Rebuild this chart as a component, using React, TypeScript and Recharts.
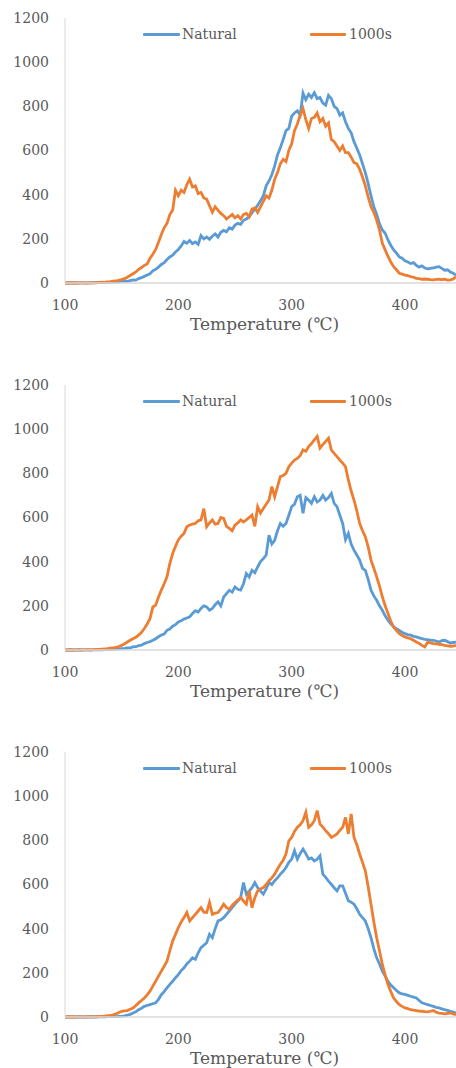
import React from 'react';
import { LineChart, Line, XAxis, YAxis } from 'recharts';

// temperatures 100 .. 445 step 2.5
const TEMPS: number[] = Array.from({ length: 139 }, (_, i) => 100 + i * 2.5);
const X_TICKS = [100, 200, 300, 400];
const Y_TICKS = [0, 200, 400, 600, 800, 1000, 1200];
const SERIES_NAMES = ['Natural', '1000s'];
const X_TITLE = 'Temperature (℃)';

const N1 = [
  0, 1, 0, 1, 0, 1, 1, 0, 1, 2,
  1, 2, 2, 3, 2, 3, 3, 4, 5, 4,
  6, 8, 7, 11, 14, 13, 20, 24, 30, 36,
  42, 55, 62, 72, 84, 92, 106, 118, 126, 140,
  152, 168, 188, 180, 192, 178, 186, 175, 215, 200,
  208, 198, 212, 222, 208, 230, 238, 232, 250, 244,
  262, 270, 266, 284, 290, 300, 318, 335, 352, 372,
  395, 440, 462, 490, 530, 580, 612, 650, 690, 700,
  755, 770, 780, 760, 860, 830, 855, 840, 862, 835,
  840, 815, 805, 850, 835, 800, 790, 760, 770, 730,
  700, 680, 640, 610, 580, 540, 500, 450, 395, 345,
  310, 268, 240, 225, 195, 170, 150, 135, 118, 112,
  100, 95, 88, 92, 80, 72, 78, 68, 64, 66,
  68, 72, 74, 66, 58, 60, 50, 44, 36,
];
const O1 = [
  0, 0, 1, 0, 1, 0, 1, 1, 0, 1,
  2, 1, 3, 4, 3, 5, 6, 8, 10, 12,
  16, 20, 26, 34, 42, 50, 62, 70, 80, 86,
  112, 130, 152, 185, 220, 250, 270, 310, 330, 420,
  395, 420, 410, 445, 470, 435, 440, 405, 410, 385,
  380, 350, 320, 345, 330, 315, 305, 290, 300, 310,
  295, 305, 290, 310, 315, 300, 335, 340, 320, 345,
  370, 395, 385, 420, 470, 500, 540, 560, 550, 600,
  630, 690, 720, 760, 790, 740, 700, 745, 750, 770,
  730, 745, 710, 725, 650, 640, 620, 600, 620, 590,
  590, 570, 545, 540, 515, 480, 440, 390, 345, 320,
  285, 240, 180, 150, 120, 95, 74, 60, 44, 40,
  36, 34, 29, 26, 21, 20, 17, 18, 17, 15,
  14, 16, 17, 15, 17, 13, 14, 18, 29,
];
const N2 = [
  0, 0, 1, 0, 0, 1, 0, 1, 1, 0,
  1, 1, 2, 1, 2, 3, 2, 4, 4, 5,
  6, 7, 9, 10, 14, 15, 20, 22, 29, 34,
  38, 44, 51, 60, 68, 72, 89, 95, 108, 115,
  127, 132, 140, 145, 150, 165, 178, 172, 188, 200,
  195, 180, 188, 205, 218, 200, 240, 255, 270, 262,
  286, 275, 271, 300, 346, 330, 361, 350, 376, 400,
  414, 430, 520, 480, 497, 540, 573, 560, 573, 610,
  649, 660, 694, 700, 619, 690, 679, 664, 694, 670,
  679, 700, 679, 690, 709, 664, 649, 610, 573, 500,
  528, 480, 452, 430, 407, 370, 361, 320, 271, 245,
  225, 200, 180, 155, 135, 118, 104, 96, 89, 80,
  74, 70, 67, 62, 59, 55, 51, 48, 47, 45,
  44, 40, 36, 42, 44, 38, 32, 34, 36,
];
const O2 = [
  0, 0, 1, 0, 1, 1, 0, 1, 2, 1,
  2, 3, 3, 4, 5, 6, 8, 10, 12, 16,
  21, 28, 36, 44, 51, 58, 67, 80, 97, 118,
  142, 195, 203, 240, 271, 300, 331, 392, 437, 470,
  498, 515, 528, 558, 566, 570, 573, 585, 589, 640,
  558, 575, 589, 570, 573, 600, 596, 560, 551, 540,
  566, 575, 589, 580, 589, 600, 611, 560, 649, 620,
  641, 660, 679, 740, 694, 740, 785, 790, 800, 830,
  846, 860, 868, 880, 906, 900, 921, 935, 951, 967,
  914, 930, 944, 959, 906, 890, 876, 860, 846, 830,
  770, 720, 679, 630, 573, 540, 513, 467, 407, 370,
  331, 290, 241, 200, 165, 130, 104, 88, 74, 66,
  59, 55, 51, 44, 36, 30, 21, 14, 36, 32,
  29, 28, 26, 24, 21, 19, 17, 18, 21,
];
const N3 = [
  0, 0, 1, 0, 0, 1, 0, 0, 1, 0,
  1, 0, 1, 2, 1, 2, 2, 3, 2, 3,
  3, 5, 8, 12, 18, 24, 33, 40, 48, 52,
  56, 60, 64, 80, 101, 115, 132, 148, 162, 178,
  192, 210, 223, 240, 253, 268, 261, 290, 314, 325,
  336, 374, 359, 400, 435, 440, 450, 465, 480, 495,
  511, 525, 541, 609, 556, 570, 586, 609, 586, 570,
  556, 580, 609, 600, 617, 630, 647, 660, 677, 700,
  715, 753, 715, 740, 760, 740, 715, 720, 707, 715,
  730, 647, 632, 615, 601, 585, 571, 594, 594, 560,
  526, 520, 511, 490, 465, 450, 435, 400, 359, 310,
  268, 240, 208, 185, 162, 145, 132, 120, 109, 105,
  102, 98, 94, 90, 86, 75, 64, 60, 56, 52,
  48, 44, 41, 37, 33, 30, 26, 22, 18,
];
const O3 = [
  0, 1, 0, 1, 0, 1, 1, 0, 1, 2,
  1, 2, 3, 2, 4, 6, 6, 10, 14, 20,
  26, 28, 29, 35, 41, 52, 64, 75, 86, 100,
  117, 140, 162, 185, 208, 230, 253, 300, 344, 374,
  405, 430, 450, 473, 435, 450, 465, 480, 495, 475,
  473, 518, 465, 470, 473, 490, 511, 495, 488, 505,
  518, 530, 541, 525, 511, 571, 495, 540, 571, 580,
  586, 600, 617, 630, 647, 670, 692, 710, 738, 798,
  813, 840, 859, 870, 889, 927, 859, 870, 889, 935,
  874, 860, 844, 830, 813, 820, 829, 845, 859, 904,
  829, 920, 813, 780, 738, 700, 662, 590, 511, 430,
  359, 300, 238, 190, 147, 115, 86, 70, 56, 48,
  41, 38, 33, 31, 29, 27, 26, 24, 23, 26,
  29, 22, 18, 16, 14, 16, 18, 14, 11,
];

const BLUE = '#5B9BD5';
const ORANGE = '#ED7D31';
const TEXT = '#595959';
const AXIS = '#D9D9D9';
const FONT = '"DejaVu Serif", "Liberation Serif", serif';

const PANELS = [
  { top: 0, natural: N1, treated: O1 },
  { top: 367, natural: N2, treated: O2 },
  { top: 734, natural: N3, treated: O3 },
];

const LegendOverlay = () => (
  <div style={{ position: 'absolute', left: 0, top: 25, width: 456, height: 20, fontFamily: FONT, fontSize: 14, color: TEXT, pointerEvents: 'none' }}>
    <div style={{ position: 'absolute', left: 143, top: 8, width: 37, height: 3, background: BLUE, borderRadius: 1 }} />
    <div style={{ position: 'absolute', left: 182, top: 0, lineHeight: '18px' }}>{SERIES_NAMES[0]}</div>
    <div style={{ position: 'absolute', left: 310, top: 8, width: 36, height: 3, background: ORANGE, borderRadius: 1 }} />
    <div style={{ position: 'absolute', left: 349, top: 0, lineHeight: '18px' }}>{SERIES_NAMES[1]}</div>
  </div>
);

function Panel({ natural, treated }: { natural: number[]; treated: number[] }) {
  const data = TEMPS.map((t, i) => ({ t, natural: natural[i], treated: treated[i] }));
  return (
    <LineChart width={456} height={367} data={data} margin={{ top: 18, right: 0, bottom: 0, left: 0 }}>
      <XAxis
        dataKey="t"
        type="number"
        domain={[100, 445]}
        ticks={X_TICKS}
        allowDataOverflow
        tickLine={false}
        tickSize={0}
        tickMargin={17}
        height={84}
        axisLine={{ stroke: AXIS, strokeWidth: 1.5 }}
        tick={{ fill: TEXT, fontSize: 14, fontFamily: FONT }}
        label={{ value: X_TITLE, position: 'insideBottom', offset: 37, dx: 4, fill: TEXT, fontSize: 17, fontFamily: FONT }}
      />
      <YAxis
        domain={[0, 1200]}
        ticks={Y_TICKS}
        width={65}
        tickLine={false}
        tickSize={0}
        tickMargin={16}
        axisLine={{ stroke: AXIS, strokeWidth: 1 }}
        tick={{ fill: TEXT, fontSize: 14, fontFamily: FONT }}
      />
      <Line dataKey="natural" name={SERIES_NAMES[0]} stroke={BLUE} strokeWidth={2.8} dot={false} isAnimationActive={false} />
      <Line dataKey="treated" name={SERIES_NAMES[1]} stroke={ORANGE} strokeWidth={2.8} dot={false} isAnimationActive={false} />
    </LineChart>
  );
}

export default function App() {
  return (
    <div style={{ position: 'absolute', left: 0, top: 0, width: 456, height: 1068, background: '#fff', overflow: 'hidden' }}>
      {PANELS.map((p, i) => (
        <div key={i} style={{ position: 'absolute', left: 0, top: p.top, width: 456, height: 367 }}>
          <Panel natural={p.natural} treated={p.treated} />
          <LegendOverlay />
        </div>
      ))}
    </div>
  );
}
